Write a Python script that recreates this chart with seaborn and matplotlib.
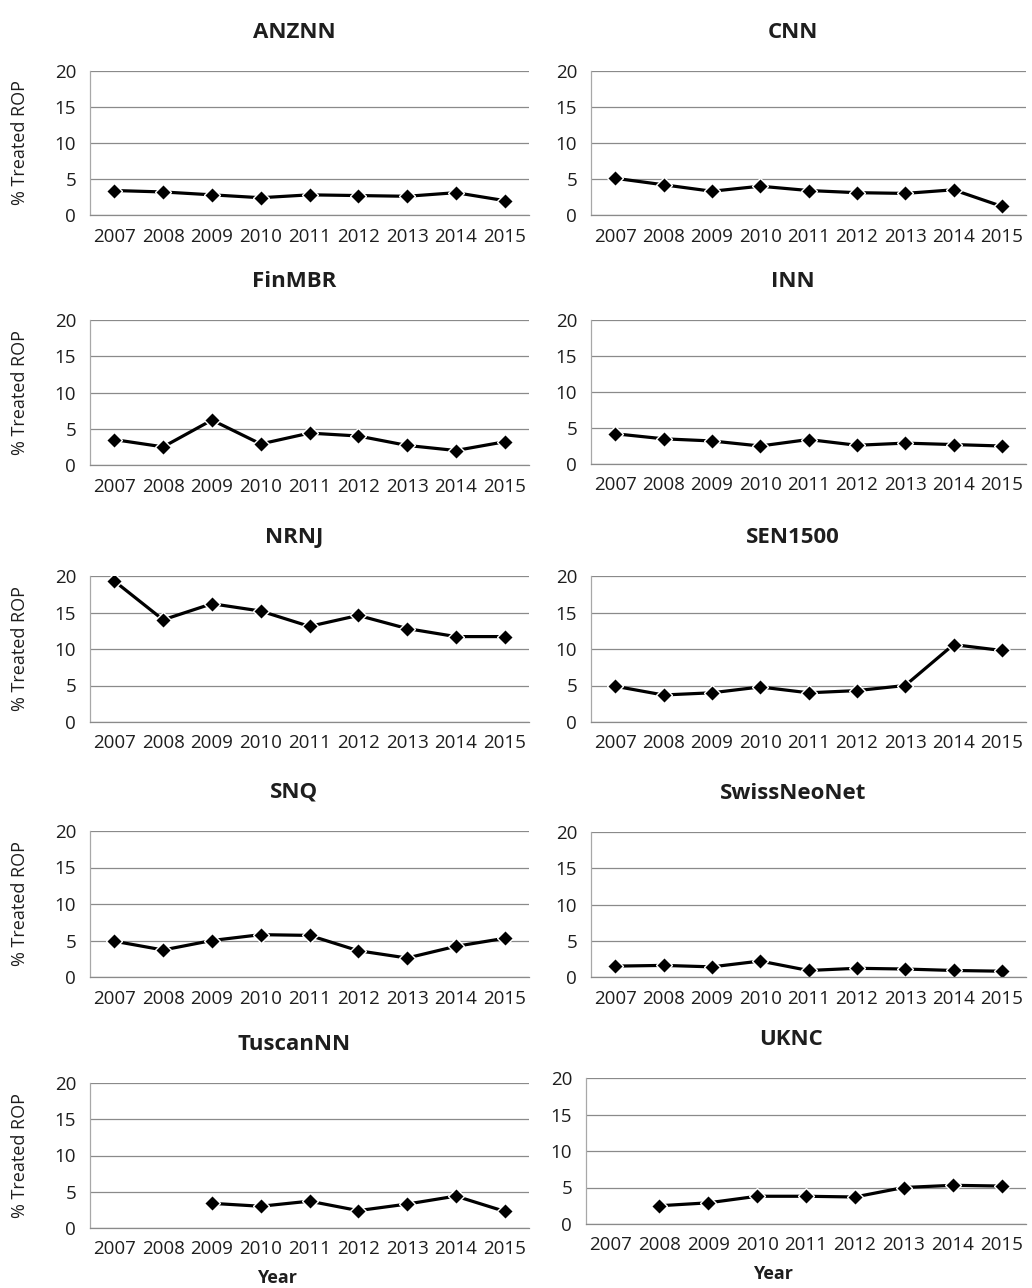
import numpy as np
import pandas as pd
import seaborn as sns
import matplotlib.pyplot as plt
import matplotlib.ticker as mticker

sns.set_theme(style="white")
plt.rcParams['font.family'] = ['Open Sans', 'DejaVu Sans']

years = ['2007', '2008', '2009', '2010', '2011', '2012', '2013', '2014', '2015']
networks = ['ANZNN', 'CNN', 'FinMBR', 'INN', 'NRNJ', 'SEN1500',
            'SNQ', 'SwissNeoNet', 'TuscanNN', 'UKNC']

anznn = [3.4, 3.2, 2.8, 2.4, 2.8, 2.7, 2.6, 3.1, 2.0]
cnn = [5.1, 4.2, 3.3, 4.0, 3.4, 3.1, 3.0, 3.5, 1.2]
finmbr = [3.5, 2.5, 6.2, 2.9, 4.4, 4.0, 2.7, 2.0, 3.2]
inn = [4.2, 3.5, 3.2, 2.5, 3.4, 2.6, 2.9, 2.7, 2.5]
nrnj = [19.3, 14.0, 16.2, 15.2, 13.1, 14.6, 12.8, 11.7, 11.7]
sen1500 = [4.9, 3.7, 4.0, 4.8, 4.0, 4.3, 5.0, 10.6, 9.8]
snq = [4.9, 3.7, 5.0, 5.8, 5.7, 3.6, 2.6, 4.2, 5.3]
swissneonet = [1.5, 1.6, 1.4, 2.2, 0.9, 1.2, 1.1, 0.9, 0.8]
tuscannn = [np.nan, np.nan, 3.4, 3.0, 3.7, 2.4, 3.3, 4.4, 2.3]
uknc = [np.nan, 2.5, 2.9, 3.8, 3.8, 3.7, 5.0, 5.3, 5.2]

series = [anznn, cnn, finmbr, inn, nrnj, sen1500, snq, swissneonet, tuscannn, uknc]

df = pd.DataFrame({
    'network': np.repeat(networks, len(years)),
    'year': years * len(networks),
    'pos': list(range(len(years))) * len(networks),
    'value': np.concatenate(series),
})

W, H = 1032, 1288
fig = plt.figure(figsize=(W / 100, H / 100), dpi=100)
fig.patch.set_facecolor('white')

# axes boxes in pixels: (left, top, right, bottom)
boxes = [
    (90, 71, 529, 215), (591, 71, 1026, 215),
    (90, 320, 529, 465), (591, 320, 1026, 464),
    (90, 576, 529, 722), (591, 576, 1026, 722),
    (90, 831, 529, 977), (591, 832, 1026, 977),
    (90, 1083, 529, 1228), (586, 1078, 1026, 1224),
]

grid_col = '#8a8a8a'
text_col = '#1e1e1e'

for i, (name, (l, t, r, b)) in enumerate(zip(networks, boxes)):
    ax = fig.add_axes([l / W, 1 - b / H, (r - l) / W, (b - t) / H])
    sub = df[df['network'] == name].dropna()
    sns.lineplot(data=sub, x='pos', y='value', ax=ax, color='black',
                 marker='D', markersize=8.5, markeredgewidth=1,
                 linewidth=2.3, estimator=None)
    ax.set_xlim(-0.5, len(years) - 0.5)
    ax.set_ylim(0, 20)
    ax.set_yticks([0, 5, 10, 15, 20])
    ax.set_xticks(range(len(years)))
    ax.set_xticklabels(years)
    ax.xaxis.set_minor_locator(mticker.FixedLocator(np.arange(-0.5, len(years), 1)))
    ax.tick_params(axis='x', which='major', length=0, pad=9, labelsize=13.5, colors=text_col)
    ax.tick_params(axis='x', which='minor', length=5, width=0.8, color='#9a9a9a', direction='out')
    ax.tick_params(axis='y', which='major', length=4, width=0.8, color='#9a9a9a',
                   pad=6, labelsize=13.5, labelcolor=text_col, direction='out')
    ax.yaxis.grid(True, color=grid_col, linewidth=0.9)
    ax.xaxis.grid(False)
    ax.set_axisbelow(True)
    for side in ['top', 'right']:
        ax.spines[side].set_visible(False)
    ax.spines['left'].set_color('#a8a8a8')
    ax.spines['bottom'].set_color('#8a8a8a')
    ax.spines['left'].set_linewidth(0.9)
    ax.spines['bottom'].set_linewidth(0.9)

    ax.set_title(name, fontsize=16, fontweight='bold', color=text_col, pad=24, x=0.465)

    if i % 2 == 0:
        ax.set_ylabel('% Treated ROP', fontsize=13, color=text_col)
        ax.yaxis.set_label_coords(-(l - 29) / (r - l), 0.5)
    else:
        ax.set_ylabel('')

    if i >= 8:
        ax.set_xlabel('Year', fontsize=13, fontweight='bold', color=text_col)
        ax.xaxis.set_label_coords(0.426, -0.28)
    else:
        ax.set_xlabel('')

fig.savefig('out.png', dpi=100, facecolor='white')
